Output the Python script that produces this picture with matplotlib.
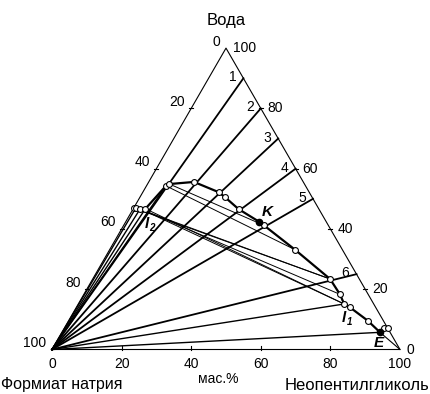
import numpy as np
import matplotlib
matplotlib.use("Agg")
import matplotlib.pyplot as plt

plt.rcParams['font.family'] = ['Liberation Sans', 'DejaVu Sans']

# Compositions in mass %: (neopentyl glycol, water); sodium formate = 100 - both
curve_npg = [0.0, 0.6, 2.0, 3.5, 5.6, 6.3, 13.0, 21.8, 24.5, 30.3, 38.3, 40.3,
             53.3, 68.2, 73.6, 76.4, 78.6, 85.9, 91.4, 92.0, 92.9]
curve_water = [47.0, 47.0, 46.7, 46.7, 54.3, 54.9, 55.6, 52.2, 50.5, 46.6, 42.4, 41.2,
               33.1, 23.4, 18.3, 15.1, 14.0, 9.6, 5.7, 7.0, 7.1]
filled_idx = [10, 18]          # K and E
label_l2, label_l1, label_K, label_E = 3, 15, 10, 18

# Water content of the water + neopentyl glycol solvent for sections 1-6
section_water = [90, 80, 70, 60, 50, 25]
section_names = ['1', '2', '3', '4', '5', '6']

# Rays from the sodium formate vertex to points of the curve
ray_idx = [1, 2, 3, 4, 15, 18]

# Liquid-liquid tie lines (pairs of curve indices)
tie_pairs = [(5, 11), (4, 12), (0, 13), (1, 13), (2, 14), (3, 15), (2, 15)]

ticks = [0, 20, 40, 60, 80, 100]

SQ = np.sqrt(3) / 2


def tern(npg, water):
    npg = np.asarray(npg, float) / 100
    water = np.asarray(water, float) / 100
    return npg + 0.5 * water, SQ * water


# figure geometry (pixels)
W_PX, H_PX = 431, 394
side = 348.0
x0, y0 = 52.0, 349.5

fig = plt.figure(figsize=(W_PX / 100, H_PX / 100), dpi=100)
ax = fig.add_axes([0, 0, 1, 1])
ax.set_xlim(-x0 / side, (W_PX - x0) / side)
ax.set_ylim(-(H_PX - y0) / side, y0 / side)
ax.axis('off')


def px(xp, yp):
    return (xp - x0) / side, (y0 - yp) / side


k = 'black'
# triangle frame
tx, ty = tern([0, 100, 0, 0], [0, 0, 100, 0])
ax.plot(tx, ty, color=k, lw=0.8, zorder=2)

# ticks and tick labels
tl = 4 / side
for v in ticks[1:-1]:
    # bottom (neopentyl glycol)
    bx, by = tern(v, 0)
    ax.plot([bx, bx], [by, by + tl], color=k, lw=0.8)
    # left edge (sodium formate)
    lx, ly = tern(0, 100 - v)
    ax.plot([lx - tl / 2, lx + tl / 2], [ly, ly], color=k, lw=0.8)
    # right edge (water)
    rx, ry = tern(100 - v, v)
    ax.plot([rx - tl / 2, rx + tl / 2], [ry, ry], color=k, lw=0.8)

fs = 10
for v in ticks:
    bx, by = tern(v, 0)
    ax.text(bx, by - 15 / side, str(v), ha='center', va='center', fontsize=fs)
    lx, ly = tern(0, 100 - v)
    ax.text(lx - 6 / side, ly + 6.5 / side, str(v), ha='right', va='center', fontsize=fs)
    rx, ry = tern(100 - v, v)
    ax.text(rx + 7 / side, ry, str(v), ha='left', va='center', fontsize=fs)

# numbered sections from the formate vertex
for wv, name in zip(section_water, section_names):
    ex, ey = tern(100 - wv, wv)
    ax.plot([0, ex], [0, ey], color=k, lw=1.3, zorder=3)
    ax.text(ex - 11 / side, ey + 1 / side, name, ha='center', va='center', fontsize=fs)

cx, cy = tern(curve_npg, curve_water)

# rays to curve points
for i in ray_idx:
    ax.plot([0, cx[i]], [0, cy[i]], color=k, lw=1.0, zorder=3)
# solid neopentyl glycol ray from the eutonic point
ax.plot([cx[label_E], 1.0], [cy[label_E], 0.0], color=k, lw=0.8, zorder=3)

# tie lines
for a, b in tie_pairs:
    ax.plot([cx[a], cx[b]], [cy[a], cy[b]], color=k, lw=0.7, zorder=3)

# solubility curve
ax.plot(cx, cy, color=k, lw=1.6, zorder=4)
open_idx = [i for i in range(len(cx)) if i not in filled_idx]
ax.plot(cx[open_idx], cy[open_idx], 'o', ms=4.2, mfc='white', mec=k, mew=0.8, zorder=5)
ax.plot(cx[filled_idx], cy[filled_idx], 'o', ms=4.5, mfc=k, mec=k, zorder=6)

# point labels
lab = dict(fontsize=11, fontweight='bold', fontstyle='italic', ha='center', va='center')
ax.text(cx[label_K] + 8 / side, cy[label_K] + 10 / side, 'K', **lab)
ax.text(cx[label_E] - 1 / side, cy[label_E] - 11 / side, 'E', **lab)
ax.text(cx[label_l2] + 1 / side, cy[label_l2] - 15 / side, 'l', **lab)
ax.text(cx[label_l2] + 6 / side, cy[label_l2] - 19 / side, '2', fontsize=7,
        fontweight='bold', fontstyle='italic', ha='center', va='center')
ax.text(cx[label_l1] + 0 / side, cy[label_l1] - 14 / side, 'l', **lab)
ax.text(cx[label_l1] + 5 / side, cy[label_l1] - 18 / side, '1', fontsize=7,
        fontweight='bold', fontstyle='italic', ha='center', va='center')

# component names
ax.text(*px(226, 20), 'Вода', ha='center', va='center', fontsize=12)
ax.text(*px(62, 385), 'Формиат натрия', ha='center', va='center', fontsize=11.5)
ax.text(*px(357, 385), 'Неопентилгликоль', ha='center', va='center', fontsize=12)
ax.text(*px(218, 379), 'мас.%', ha='center', va='center', fontsize=10)

fig.savefig('out.png', dpi=100)
